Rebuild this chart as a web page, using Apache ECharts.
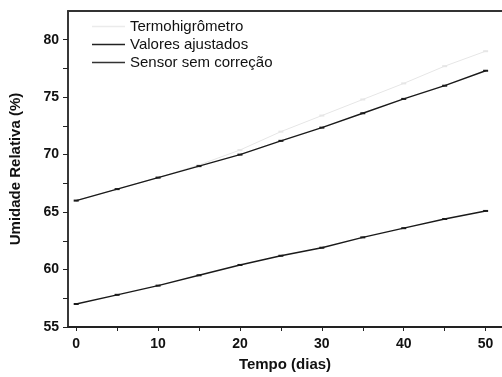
<!DOCTYPE html>
<html><head><meta charset="utf-8">
<script src="https://cdn.jsdelivr.net/npm/echarts@6/dist/echarts.min.js"></script>
<style>html,body{margin:0;padding:0;background:#fff}#c{width:502px;height:377px}</style>
</head><body><div id="c"></div>
<script>
const days = [0, 5, 10, 15, 20, 25, 30, 35, 40, 45, 50];
const termohigrometro = [66.0, 67.0, 68.0, 69.1, 70.4, 72.0, 73.4, 74.8, 76.2, 77.7, 79.0];
const valoresAjustados = [66.0, 67.0, 68.0, 69.0, 70.0, 71.2, 72.35, 73.6, 74.85, 76.0, 77.3];
const sensorSemCorrecao = [57.0, 57.8, 58.6, 59.5, 60.4, 61.2, 61.9, 62.8, 63.6, 64.4, 65.1];
const xTickLabels = [0, 10, 20, 30, 40, 50];
const xTicks = [0, 5, 10, 15, 20, 25, 30, 35, 40, 45, 50];
const yTickLabels = [55, 60, 65, 70, 75, 80];
const yTicks = [55, 57.5, 60, 62.5, 65, 67.5, 70, 72.5, 75, 77.5, 80];

const pair = (xs, ys) => xs.map((x, i) => [x, ys[i]]);
const font = 'Liberation Sans, Arial, sans-serif';
const chart = echarts.init(document.getElementById('c'));
const mk = (name, data, color, width) => ({
  name, type: 'line', data: pair(days, data),
  symbol: 'rect', symbolSize: [5, 2], showSymbol: true,
  lineStyle: { color, width }, itemStyle: { color },
  animation: false, z: name === 'Termohigrômetro' ? 1 : 3
});
chart.setOption({
  animation: false,
  grid: { left: 67, right: 0, top: 11, bottom: 46 },
  legend: {
    orient: 'vertical', left: 87, top: 14, itemGap: 3,
    itemWidth: 33, itemHeight: 15, icon: 'path://M0,7H33V8.5H0Z',
    textStyle: { fontFamily: font, fontSize: 15, color: '#111' },
    data: [
      { name: 'Termohigrômetro', itemStyle: { color: '#ebebeb' } },
      { name: 'Valores ajustados', itemStyle: { color: '#222' } },
      { name: 'Sensor sem correção', itemStyle: { color: '#333' } }
    ]
  },
  xAxis: [{
    type: 'value', min: -1, max: 52, position: 'bottom',
    name: 'Tempo (dias)', nameLocation: 'middle', nameGap: 30,
    nameTextStyle: { fontFamily: font, fontSize: 15, fontWeight: 'bold', color: '#111' },
    axisLine: { show: true, onZero: false, lineStyle: { color: '#222', width: 1.8 } },
    axisTick: { show: true, inside: false, length: 4, customValues: xTicks, lineStyle: { color: '#222', width: 1 } },
    axisLabel: { customValues: xTickLabels, margin: 10, fontFamily: font, fontSize: 14, fontWeight: 'bold', color: '#111' },
    splitLine: { show: false }
  }, {
    type: 'value', min: -1, max: 52, position: 'top',
    axisLine: { show: true, onZero: false, lineStyle: { color: '#333', width: 1.8 } },
    axisTick: { show: false }, axisLabel: { show: false }, splitLine: { show: false }
  }],
  yAxis: {
    type: 'value', min: 55, max: 82.5,
    name: 'Umidade Relativa (%)', nameLocation: 'middle', nameGap: 45,
    nameTextStyle: { fontFamily: font, fontSize: 15, fontWeight: 'bold', color: '#111' },
    axisLine: { show: true, onZero: false, lineStyle: { color: '#222', width: 1.8 } },
    axisTick: { show: true, inside: false, length: 5, customValues: yTicks, lineStyle: { color: '#222', width: 1 } },
    axisLabel: { customValues: yTickLabels, margin: 9, fontFamily: font, fontSize: 14, fontWeight: 'bold', color: '#111' },
    splitLine: { show: false }
  },
  series: [
    mk('Termohigrômetro', termohigrometro, '#e6e6e6', 1),
    mk('Valores ajustados', valoresAjustados, '#1a1a1a', 1.4),
    mk('Sensor sem correção', sensorSemCorrecao, '#1a1a1a', 1.4)
  ]
});
</script></body></html>
